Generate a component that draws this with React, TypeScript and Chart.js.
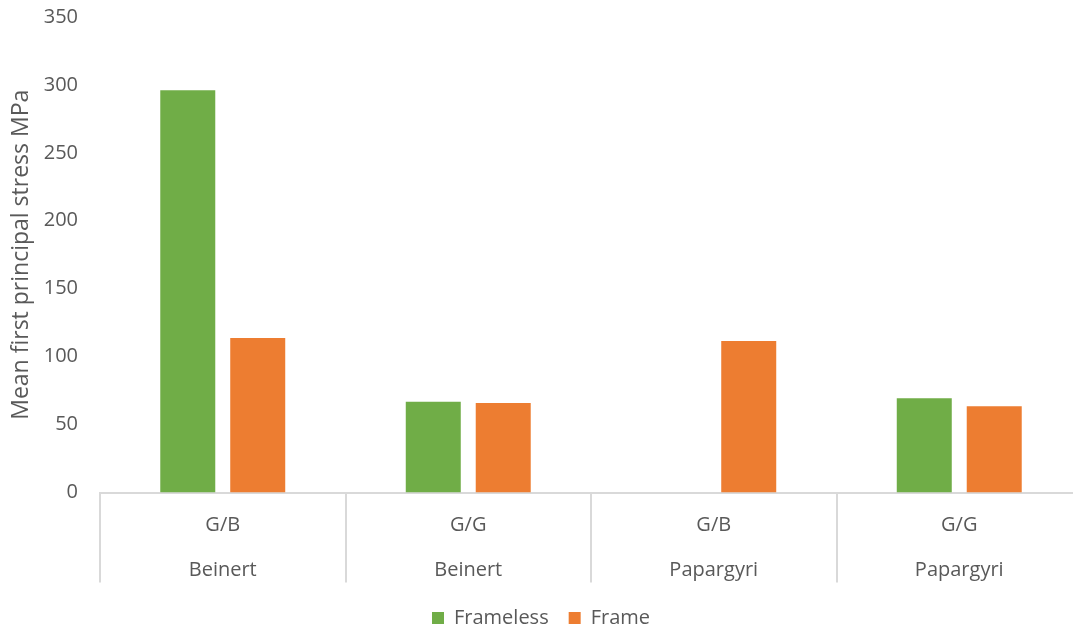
import React, { useEffect, useRef } from "react";
import { Chart, registerables } from "chart.js";

Chart.register(...registerables);

const methods = ["G/B", "G/G", "G/B", "G/G"];
const studies = ["Beinert", "Beinert", "Papargyri", "Papargyri"];
const frameless: (number | null)[] = [296, 66.8, null, 69.3];
const frame: number[] = [113.8, 65.9, 111.5, 63.4];
const yTicks = [0, 50, 100, 150, 200, 250, 300, 350];

const TEXT = "#595959";
const FONT = "'Open Sans', sans-serif";

export default function App() {
  const ref = useRef<HTMLCanvasElement | null>(null);
  useEffect(() => {
    if (!ref.current) return;
    const labels = methods.map((m, i) => [m, studies[i]]);
    const chart = new Chart(ref.current, {
      type: "bar",
      data: {
        labels,
        datasets: [
          {
            label: "Frameless",
            data: frameless,
            backgroundColor: "#70AD47",
            categoryPercentage: 0.57,
            barPercentage: 0.786,
          },
          {
            label: "Frame",
            data: frame,
            backgroundColor: "#ED7D31",
            categoryPercentage: 0.57,
            barPercentage: 0.786,
          },
        ],
      },
      options: {
        animation: false,
        responsive: false,
        maintainAspectRatio: false,
        layout: { padding: { left: 0, right: 8, top: 17, bottom: 0 } },
        plugins: {
          tooltip: { enabled: false },
          legend: {
            position: "bottom",
            labels: {
              color: TEXT,
              font: { family: FONT, size: 20 },
              boxWidth: 12,
              boxHeight: 12,
              padding: 20,
            },
          },
        },
        scales: {
          x: {
            type: "category",
            offset: true,
            border: { display: true, color: "#d9d9d9", width: 2 },
            grid: {
              display: true,
              offset: true,
              drawOnChartArea: false,
              drawTicks: true,
              tickLength: 90,
              color: "#d9d9d9",
              lineWidth: 2,
            },
            ticks: {
              color: TEXT,
              font: { family: FONT, size: 20, lineHeight: 2.25 },
              padding: -80,
              maxRotation: 0,
              autoSkip: false,
            },
            afterFit: (s: any) => {
              s.height = 95.5;
              s.paddingLeft = 0;
              s.paddingRight = 0;
            },
          },
          y: {
            min: 0,
            max: 350,
            afterBuildTicks: (s: any) => {
              s.ticks = yTicks.map((v) => ({ value: v }));
            },
            border: { display: false },
            grid: { display: false },
            ticks: {
              color: TEXT,
              font: { family: FONT, size: 20 },
              padding: 14,
            },
            title: {
              display: true,
              text: "Mean first principal stress MPa",
              color: TEXT,
              font: { family: FONT, size: 23, lineHeight: 1.2 },
              padding: { top: 8, bottom: 0 },
            },
            afterFit: (s: any) => {
              s.width = 100;
              s.paddingTop = 0;
              s.paddingBottom = 0;
            },
          },
        },
      },
    });
    return () => chart.destroy();
  }, []);
  return (
    <div
      style={{
        position: "fixed",
        left: 0,
        top: 0,
        width: 1073,
        height: 628,
        overflow: "hidden",
        background: "#fff",
      }}
    >
      <canvas ref={ref} width={1090} height={638} style={{ display: "block" }} />
    </div>
  );
}
